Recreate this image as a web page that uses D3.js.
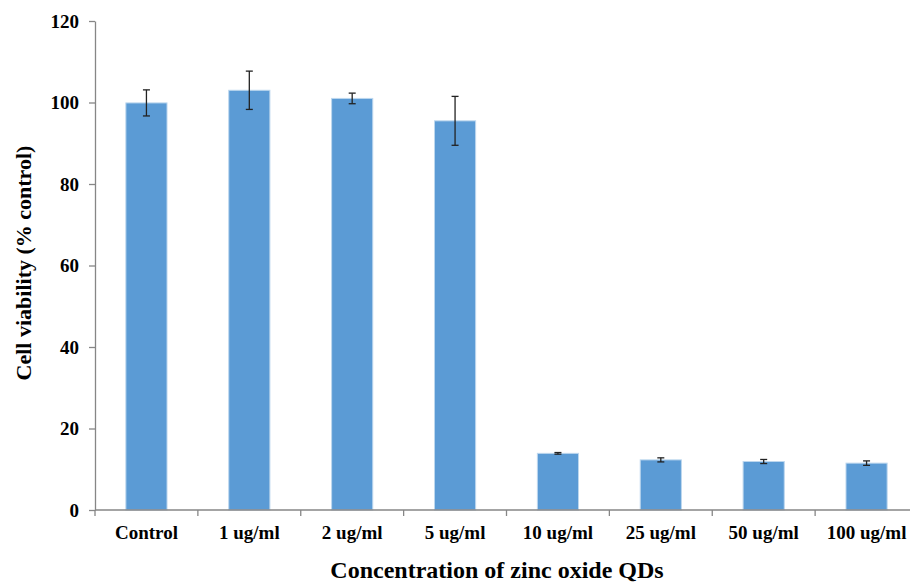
<!DOCTYPE html>
<html>
<head>
<meta charset="utf-8">
<script src="https://cdn.jsdelivr.net/npm/d3@7"></script>
<style>
  html, body { margin: 0; padding: 0; background: #fff; }
  svg { display: block; }
  text { font-family: "Liberation Serif", "Times New Roman", serif; font-weight: bold; fill: #000; }
</style>
</head>
<body>
<svg id="chart" width="910" height="582"></svg>
<script>
const categories = ["Control", "1 ug/ml", "2 ug/ml", "5 ug/ml", "10 ug/ml", "25 ug/ml", "50 ug/ml", "100 ug/ml"];
const viability = [99.9, 103.0, 101.0, 95.5, 13.9, 12.3, 11.9, 11.5];
const errors = [3.2, 4.7, 1.3, 6.0, 0.2, 0.5, 0.5, 0.55];
const yTicks = [0, 20, 40, 60, 80, 100, 120];
const xTitle = "Concentration of zinc oxide QDs";
const yTitle = "Cell viability (% control)";

const svg = d3.select("#chart");
const mLeft = 95, mRight = 918, mTop = 21, mBottom = 510;

const x = d3.scaleBand().domain(categories).range([mLeft, mRight]).paddingInner(0.6).paddingOuter(0.3);
const y = d3.scaleLinear().domain([0, 120]).range([mBottom, mTop]);

// bars
svg.append("g").selectAll("rect").data(categories).join("rect")
  .attr("x", d => x(d))
  .attr("width", x.bandwidth())
  .attr("y", (d, i) => y(viability[i]))
  .attr("height", (d, i) => y(0) - y(viability[i]))
  .attr("fill", "#5B9BD5")
  .attr("stroke", "#BDD7EE")
  .attr("stroke-width", 1);

// error bars
const eb = svg.append("g").attr("stroke", "#222").attr("stroke-width", 1.3);
categories.forEach((c, i) => {
  const cx = x(c) + x.bandwidth() / 2;
  const hi = y(viability[i] + errors[i]), lo = y(viability[i] - errors[i]);
  eb.append("line").attr("x1", cx).attr("x2", cx).attr("y1", hi).attr("y2", lo);
  eb.append("line").attr("x1", cx - 3.5).attr("x2", cx + 3.5).attr("y1", hi).attr("y2", hi);
  eb.append("line").attr("x1", cx - 3.5).attr("x2", cx + 3.5).attr("y1", lo).attr("y2", lo);
});

// y axis
const yAxis = svg.append("g").attr("transform", `translate(${mLeft},0)`)
  .call(d3.axisLeft(y).tickValues(yTicks).tickSize(6).tickSizeOuter(0).tickPadding(10).tickFormat(d3.format("d")));
yAxis.selectAll("path, line").attr("stroke", "#868686").attr("stroke-width", 1.3);
yAxis.selectAll("text").style("font-size", "19px").style("font-family", "Liberation Serif").style("font-weight", "bold").attr("fill", "#000");

// x axis
const xTickPos = d3.scalePoint().domain(d3.range(categories.length + 1)).range([mLeft, mRight]);
const xAxis = svg.append("g").attr("transform", `translate(0,${mBottom})`);
xAxis.append("line").attr("x1", mLeft).attr("x2", mRight).attr("y1", 0).attr("y2", 0)
  .attr("stroke", "#868686").attr("stroke-width", 1.3);
xAxis.selectAll("line.tick").data(d3.range(categories.length + 1)).join("line")
  .attr("class", "tick")
  .attr("x1", d => xTickPos(d)).attr("x2", d => xTickPos(d))
  .attr("y1", 0).attr("y2", 6)
  .attr("stroke", "#868686").attr("stroke-width", 1.3);
xAxis.selectAll("text").data(categories).join("text")
  .attr("x", d => x(d) + x.bandwidth() / 2)
  .attr("y", 29)
  .attr("text-anchor", "middle")
  .style("font-size", "19px")
  .text(d => d);

// titles
svg.append("text").attr("x", 497).attr("y", 578).attr("text-anchor", "middle")
  .style("font-size", "24px").text(xTitle);
svg.append("text").attr("transform", "translate(31,263) rotate(-90)").attr("text-anchor", "middle")
  .style("font-size", "22px").text(yTitle);
</script>
</body>
</html>
